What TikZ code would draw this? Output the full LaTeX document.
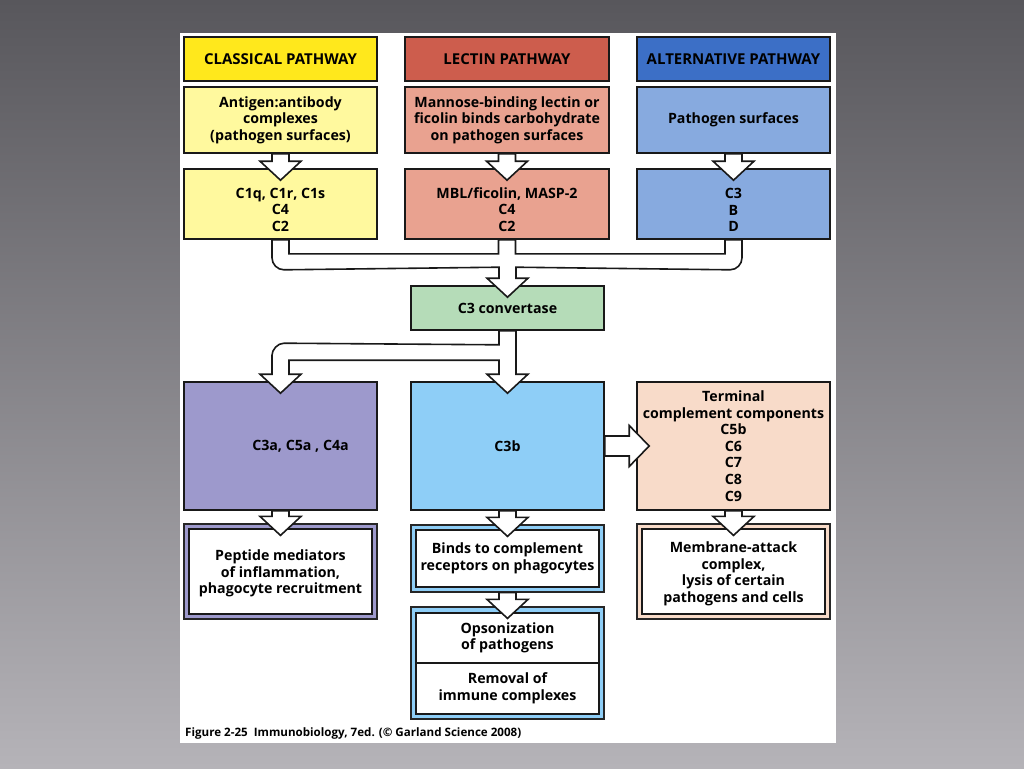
\documentclass[tikz,border=0pt]{standalone}
\usepackage{fontspec}
\setmainfont{Open Sans}
\usetikzlibrary{calc}

\definecolor{clshead}{HTML}{FFE81C}
\definecolor{clsbody}{HTML}{FFF99E}
\definecolor{lechead}{HTML}{CD5D4D}
\definecolor{lecbody}{HTML}{E9A290}
\definecolor{althead}{HTML}{3C6FC6}
\definecolor{altbody}{HTML}{87AADF}
\definecolor{convfill}{HTML}{B5DCB8}
\definecolor{cmpfill}{HTML}{9D99CC}
\definecolor{c3bfill}{HTML}{8ECEF7}
\definecolor{termfill}{HTML}{F8DBC9}
\definecolor{bgtop}{HTML}{58575C}
\definecolor{bgbottom}{HTML}{B5B3B8}

% block arrow down from one node into the next
\newcommand{\flowdown}[2]{%
  \draw[blockarrow] ($(#1.south)+(-8.5,0)$) -- ($(#2.north)+(-8.5,-7)$)
    -- ($(#2.north)+(-20.5,-7)$) -- ($(#2.north)+(0,12)$)
    -- ($(#2.north)+(20.5,-7)$) -- ($(#2.north)+(8.5,-7)$)
    -- ($(#1.south)+(8.5,0)$) -- cycle;}
% room above the first line, under an arrow head
\newcommand{\headroom}{\rule{0pt}{22pt}}

\begin{document}
\begin{tikzpicture}[x=1pt,y=-1pt,
    box/.style={draw=black!90, line width=1.6pt, align=center, inner sep=0pt,
      font=\bfseries\fontsize{14.2}{16.6}\selectfont},
    head/.style={box, minimum height=44, font=\bfseries\fontsize{15}{17}\selectfont},
    frame/.style={draw=black!85, line width=1.2pt, minimum width=193},
    inbox/.style={box, fill=white, line width=2pt, minimum width=183},
    blockarrow/.style={draw=black!90, line width=1.6pt, fill=white, line join=miter}]

    % Background and page
    \useasboundingbox (0,0) rectangle (1024,768);
    \shade[top color=bgtop, bottom color=bgbottom] (0,0) rectangle (1024,768);
    \fill[white] (180,33) rectangle (836,743);

    % Pathway headers
    \node[head, fill=clshead, minimum width=193] (cls1) at (280.5,59) {CLASSICAL PATHWAY};
    \node[head, fill=lechead, minimum width=204] (lec1) at (507,59) {LECTIN PATHWAY};
    \node[head, fill=althead, minimum width=193] (alt1) at (733.5,59) {ALTERNATIVE PATHWAY};

    % Triggers
    \node[box, fill=clsbody, minimum width=193, minimum height=66] (cls2) at (280.5,120)
        {Antigen:antibody\\complexes\\(pathogen surfaces)};
    \node[box, fill=lecbody, minimum width=204, minimum height=66] (lec2) at (507,120)
        {Mannose-binding lectin or\\ficolin binds carbohydrate\\on pathogen surfaces};
    \node[box, fill=altbody, minimum width=193, minimum height=66] (alt2) at (733.5,120)
        {Pathogen surfaces};

    % Early components
    \node[box, fill=clsbody, minimum width=193, minimum height=70] (cls3) at (280.5,204)
        {\headroom C1q, C1r, C1s\\C4\\C2};
    \node[box, fill=lecbody, minimum width=204, minimum height=70] (lec3) at (507,204)
        {\headroom MBL/ficolin, MASP-2\\C4\\C2};
    \node[box, fill=altbody, minimum width=193, minimum height=70] (alt3) at (733.5,204)
        {\headroom C3\\B\\D};

    \node[box, fill=convfill, minimum width=193, minimum height=44] (conv) at (507.5,308)
        {C3 convertase};

    % Products
    \node[box, fill=cmpfill, minimum width=193, minimum height=128,
        label={[xshift=20, font=\bfseries\fontsize{14.2}{16.6}\selectfont]center:C3a, C5a , C4a}]
        (cmp) at (280.5,446) {};
    \node[box, fill=c3bfill, minimum width=193, minimum height=128] (c3b) at (507.5,446) {C3b};
    \node[box, fill=termfill, minimum width=193, minimum height=128] (term) at (733.5,446)
        {Terminal\\complement components\\C5b\\C6\\C7\\C8\\C9};

    % Effects
    \node[frame, fill=cmpfill, minimum height=95] (pepf) at (280.5,571.5) {};
    \node[inbox, minimum height=85] (pep) at (pepf.center)
        {\rule{0pt}{15pt}Peptide mediators\\of inflammation,\\phagocyte recruitment};
    \node[frame, fill=c3bfill, minimum height=67] (bndf) at (507.5,558.5) {};
    \node[inbox, minimum height=57] (bnd) at (bndf.center)
        {Binds to complement\\receptors on phagocytes};
    \node[frame, fill=c3bfill, minimum height=112] (opsf) at (507.5,663) {};
    \node[inbox, minimum height=50] (ops) at (507.5,638) {Opsonization\\of pathogens};
    \node[inbox, minimum height=51] (rem) at (507.5,688.5) {Removal of\\immune complexes};
    \node[frame, fill=termfill, minimum height=95] (memf) at (733.5,571.5) {};
    \node[inbox, minimum height=85] (mem) at (memf.center)
        {\rule{0pt}{15pt}Membrane-attack\\complex,\\lysis of certain\\pathogens and cells};

    % Arrows
    \flowdown{cls2}{cls3}
    \flowdown{lec2}{lec3}
    \flowdown{alt2}{alt3}
    \flowdown{cmp}{pepf}
    \flowdown{c3b}{bndf}
    \flowdown{bndf}{opsf}
    \flowdown{term}{memf}

    % Three pathways merge into C3 convertase
    \draw[blockarrow]
        ($(cls3.south)+(-8.5,0)$) -- ($(cls3.south)+(-8.5,18)$)
        .. controls ($(cls3.south)+(-8.5,24.6)$) and ($(cls3.south)+(-3.1,30)$) .. ($(cls3.south)+(3.5,30)$)
        -- ($(conv.north)+(-8.5,-18)$) -- ($(conv.north)+(-8.5,-7)$)
        -- ($(conv.north)+(-20.5,-7)$) -- ($(conv.north)+(0,12)$)
        -- ($(conv.north)+(20.5,-7)$) -- ($(conv.north)+(8.5,-7)$)
        -- ($(conv.north)+(8.5,-18)$) -- ($(alt3.south)+(-3.5,30)$)
        .. controls ($(alt3.south)+(3.1,30)$) and ($(alt3.south)+(8.5,24.6)$) .. ($(alt3.south)+(8.5,18)$)
        -- ($(alt3.south)+(8.5,0)$) -- ($(alt3.south)+(-8.5,0)$)
        -- ($(alt3.south)+(-8.5,14)$) -- ($(lec3.south)+(8.5,14)$)
        -- ($(lec3.south)+(8.5,0)$) -- ($(lec3.south)+(-8.5,0)$)
        -- ($(lec3.south)+(-8.5,14)$) -- ($(cls3.south)+(8.5,14)$)
        -- ($(cls3.south)+(8.5,0)$) -- cycle;

    % C3 convertase splits to C3a/C5a and C3b
    \draw[blockarrow]
        ($(conv.south)+(-8.5,0)$) -- ($(conv.south)+(-8.5,14)$)
        -- ($(cmp.north)+(3.5,-38)$)
        .. controls ($(cmp.north)+(-3.1,-38)$) and ($(cmp.north)+(-8.5,-31.4)$) .. ($(cmp.north)+(-8.5,-26)$)
        -- ($(cmp.north)+(-8.5,-7)$) -- ($(cmp.north)+(-20.5,-7)$)
        -- ($(cmp.north)+(0,12)$) -- ($(cmp.north)+(20.5,-7)$)
        -- ($(cmp.north)+(8.5,-7)$) -- ($(cmp.north)+(8.5,-21)$)
        -- ($(c3b.north)+(-8.5,-21)$) -- ($(c3b.north)+(-8.5,-7)$)
        -- ($(c3b.north)+(-20.5,-7)$) -- ($(c3b.north)+(0,12)$)
        -- ($(c3b.north)+(20.5,-7)$) -- ($(c3b.north)+(8.5,-7)$)
        -- ($(conv.south)+(8.5,0)$) -- cycle;

    % C3b to terminal components
    \draw[blockarrow] ($(c3b.east)+(0,-10)$) -- ($(term.west)+(-7,-10)$)
        -- ($(term.west)+(-7,-20.5)$) -- ($(term.west)+(13,0)$)
        -- ($(term.west)+(-7,20.5)$) -- ($(term.west)+(-7,10)$)
        -- ($(c3b.east)+(0,10)$) -- cycle;

    % Caption
    \node[anchor=west, inner sep=0pt, font=\bfseries\fontsize{11.6}{13}\selectfont] (fig) at (185,733)
        {Figure 2-25\ \ Immunobiology, 7ed. (© Garland Science 2008)};
\end{tikzpicture}
\end{document}
